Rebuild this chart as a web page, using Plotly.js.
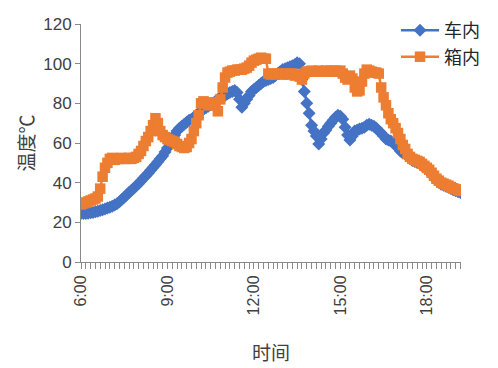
<!DOCTYPE html>
<html>
<head>
<meta charset="utf-8">
<script src="https://cdn.plot.ly/plotly-3.0.1.min.js"></script>
<style>
html,body{margin:0;padding:0;background:#fff;}
#chart{width:498px;height:368px;}
</style>
</head>
<body>
<div id="chart"></div>
<script>
// Time of day every 5 minutes, from 6:00 to 19:10 (one row per hour)
const startHour = 6;
const stepMinutes = 5;

// 车内 (in car) temperature, °C
const carInside = [
  24.5,24.5,24.5,24.6,24.8,25.0,25.3,25.6,26.0,26.3,26.7,27.2,   // 6:00
  27.6,28.1,28.7,29.4,30.4,31.5,32.6,33.8,35.0,36.0,37.2,38.4,   // 7:00
  39.6,40.8,42.2,43.5,44.8,46.2,47.6,49.0,50.5,52.0,53.5,55.5,   // 8:00
  57.5,59.5,61.5,64.0,66.0,67.5,68.5,69.5,70.5,71.5,72.0,73.0,   // 9:00
  74.0,75.0,76.0,77.0,77.8,78.5,79.3,80.0,81.0,82.0,82.8,83.5,   // 10:00
  84.0,84.8,85.5,86.0,86.5,85.5,82.0,78.0,80.0,82.0,84.0,86.0,   // 11:00
  87.0,88.0,89.0,90.0,91.0,91.5,92.0,92.5,93.0,94.0,95.0,96.0,   // 12:00
  97.0,97.5,98.0,98.5,99.0,99.5,100.5,100.0,92.0,86.0,80.0,75.0, // 13:00
  69.0,66.0,63.5,59.5,62.0,65.0,66.5,68.5,70.0,71.5,73.0,74.0,   // 14:00
  73.5,72.0,68.0,64.0,61.5,63.5,66.0,66.5,67.0,67.5,68.0,69.0,   // 15:00
  69.5,69.0,68.5,67.5,66.0,65.0,63.5,62.0,61.5,61.0,60.0,59.0,   // 16:00
  57.5,56.0,55.0,54.5,53.7,52.2,51.2,50.7,50.2,49.7,48.7,47.7,   // 17:00
  46.7,45.7,44.2,42.7,41.2,40.2,39.2,38.7,38.2,37.7,37.0,36.4,   // 18:00
  35.9,35.4,35.0                                                 // 19:00
];

// 箱内 (in box) temperature, °C
const boxInside = [
  29.0,29.5,30.0,30.5,31.0,31.5,32.0,33.0,37.0,43.0,47.5,50.0,   // 6:00
  52.0,52.5,51.5,52.0,52.0,52.5,52.0,52.0,52.5,52.0,52.5,53.0,   // 7:00
  54.5,56.0,58.5,61.0,63.0,66.0,69.0,72.5,70.0,66.0,64.0,63.0,   // 8:00
  62.0,61.5,61.0,60.5,59.5,58.5,58.0,57.5,58.0,60.0,62.0,66.0,   // 9:00
  70.0,74.0,80.0,81.0,80.0,79.0,80.0,80.5,79.0,76.0,82.0,88.0,   // 10:00
  93.0,95.5,96.0,96.5,96.5,97.0,97.0,97.0,97.5,98.0,99.0,100.5,  // 11:00
  101.5,102.0,102.5,103.0,102.5,102.5,95.0,94.5,95.0,94.5,95.0,95.0, // 12:00
  94.5,95.0,94.5,95.0,95.0,94.0,94.5,93.5,92.0,95.0,96.0,96.0,   // 13:00
  96.5,96.0,96.0,96.5,96.0,96.0,96.5,96.0,96.5,96.0,96.5,96.0,   // 14:00
  96.5,95.0,93.0,92.0,94.0,92.5,88.0,86.0,86.5,91.0,95.0,97.0,   // 15:00
  96.5,96.0,95.5,95.5,95.0,88.0,83.0,79.0,75.0,72.0,70.0,67.5,   // 16:00
  65.0,62.0,59.0,57.0,54.5,53.0,52.0,51.5,51.0,50.5,49.5,48.5,   // 17:00
  47.5,46.5,45.0,43.5,42.0,41.0,40.0,39.5,39.0,38.5,37.8,37.2,   // 18:00
  36.7,36.2,35.8                                                 // 19:00
];

const tickLabels = ["6:00","9:00","12:00","15:00","18:00"];
const tickHours = [6, 9, 12, 15, 18];

const n = Math.min(carInside.length, boxInside.length);
const hours = [];
for (let i = 0; i < n; i++) hours.push(startHour + i * stepMinutes / 60);
const lastHour = hours[n - 1];

const blue = "#4472C4";
const orange = "#ED7D31";
const axisGrey = "#898989";
const textGrey = "#404040";
const cjk = "'Noto Sans CJK SC', 'Liberation Sans', sans-serif";

const traces = [
  {
    x: hours.slice(0, n), y: carInside.slice(0, n), name: "车内",
    type: "scatter", mode: "lines+markers",
    line: {color: blue, width: 2.5},
    marker: {symbol: "diamond", size: 10, color: blue}
  },
  {
    x: hours.slice(0, n), y: boxInside.slice(0, n), name: "箱内",
    type: "scatter", mode: "lines+markers",
    line: {color: orange, width: 2.5},
    marker: {symbol: "square", size: 10.5, color: orange}
  }
];

const layout = {
  width: 498, height: 368,
  margin: {l: 81, r: 37, t: 21, b: 106, pad: 0},
  paper_bgcolor: "#ffffff", plot_bgcolor: "#ffffff",
  showlegend: true,
  legend: {
    x: 0.829, y: 1.05, xanchor: "left", yanchor: "top",
    font: {family: cjk, size: 18, color: "#262626"},
    bgcolor: "rgba(0,0,0,0)", tracegroupgap: 0, itemwidth: 38
  },
  xaxis: {
    range: [startHour, lastHour + 0.02],
    tickmode: "array", tickvals: tickHours, ticktext: tickLabels,
    tickangle: -90,
    ticks: "outside", ticklen: 6, tickcolor: axisGrey, tickwidth: 1,
    minor: {dtick: 1/6, tick0: startHour, ticks: "outside", ticklen: 6, tickcolor: axisGrey, tickwidth: 1, showgrid: false},
    showline: true, linecolor: axisGrey, linewidth: 1,
    showgrid: false, zeroline: false,
    tickfont: {family: "'Liberation Sans', Arial, sans-serif", size: 16, color: textGrey},
    title: {text: "时间", font: {family: cjk, size: 19, color: textGrey}, standoff: 32},
    fixedrange: true
  },
  yaxis: {
    range: [0, 120], tickmode: "linear", tick0: 0, dtick: 20,
    ticks: "outside", ticklen: 5, tickcolor: axisGrey,
    showline: true, linecolor: axisGrey, linewidth: 1,
    showgrid: false, zeroline: false,
    tickfont: {family: "'Liberation Sans', Arial, sans-serif", size: 17, color: textGrey},
    title: {text: "温度℃", font: {family: cjk, size: 19, color: textGrey}, standoff: 3},
    fixedrange: true
  }
};

Plotly.newPlot("chart", traces, layout, {displayModeBar: false, staticPlot: true});
</script>
</body>
</html>
